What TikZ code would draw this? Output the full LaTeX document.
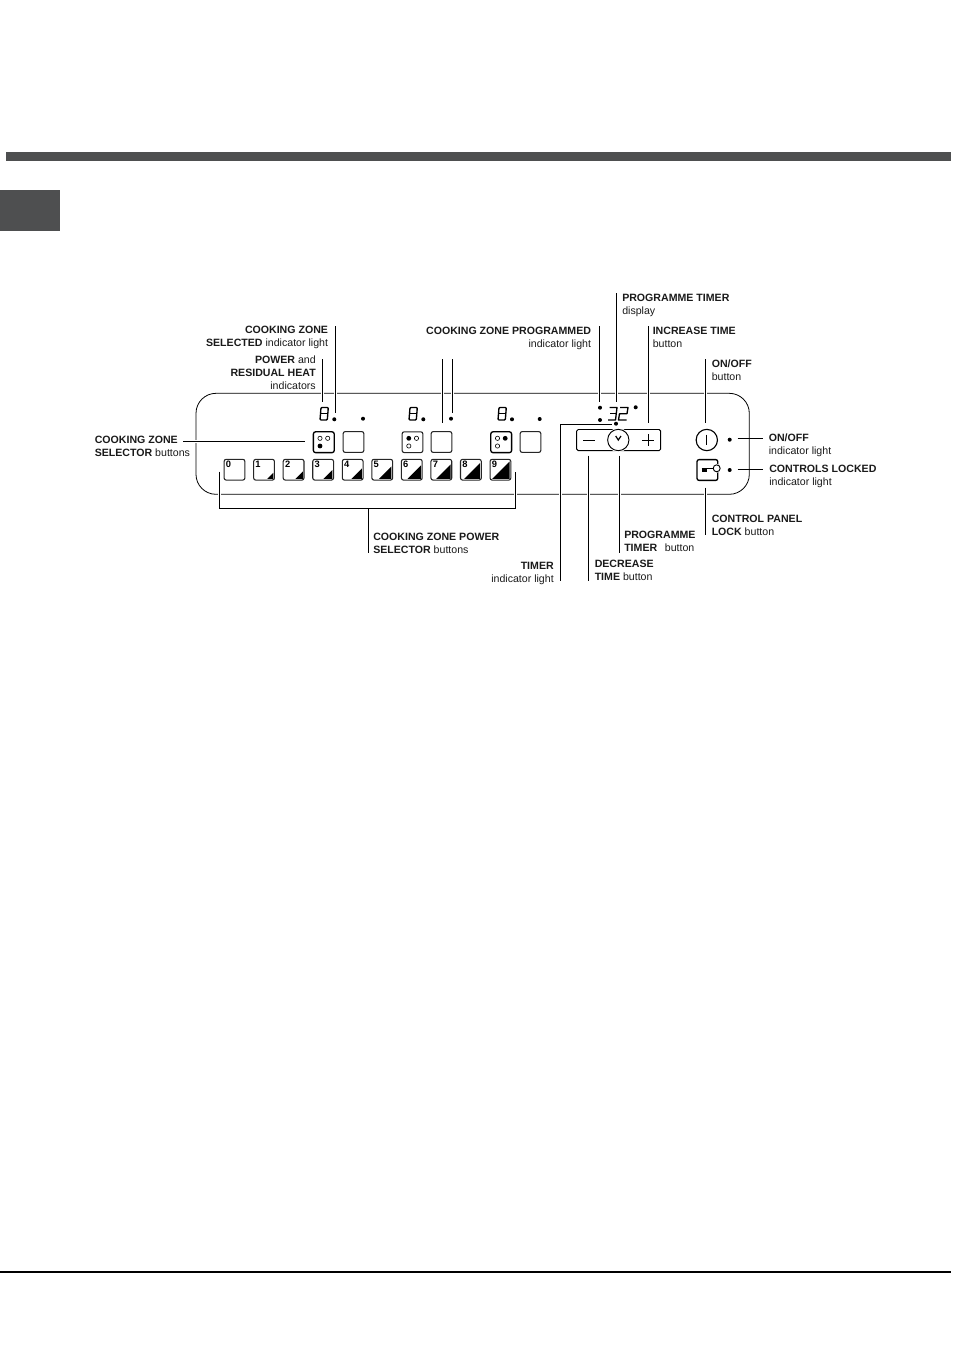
\documentclass[tikz,border=0pt]{standalone}
\usepackage{fontspec}
\setmainfont{Liberation Sans}
\usetikzlibrary{calc}
\definecolor{bar}{HTML}{4E4F50}
\definecolor{ink}{HTML}{1A1A1A}
\tikzset{
  lead/.style={draw=black,line width=0.75pt,preaction={draw=white,line width=2.6pt}},
  panel/.style={draw=black,line width=0.6pt,rounded corners=15pt},
  keybtn/.style={draw=black!85,line width=0.8pt,rounded corners=1.6pt,minimum width=15.6pt,minimum height=15.6pt,inner sep=0pt,fill=white},
  pdot/.style={circle,fill=black,inner sep=0pt,minimum size=3pt},
  ring/.style={circle,draw=black,line width=0.45pt,inner sep=0pt,minimum size=3.2pt},
  fdot/.style={circle,fill=black,inner sep=0pt,minimum size=3.6pt},
  seg/.style={draw=black,line width=1pt,line join=round},
  lab/.style={inner sep=0pt,font=\fontsize{7.95pt}{9.6pt}\selectfont,text=ink},
  labr/.style={lab,align=right,anchor=north east},
  labl/.style={lab,align=left,anchor=north west},
  num/.style={inner sep=0pt,font=\bfseries\fontsize{7pt}{7pt}\selectfont,anchor=north west}
}
\newcommand{\digiteight}[2]{%
  \draw[seg,rounded corners=0.7pt] (#1+1,#2) -- (#1+8.3,#2) -- (#1+7.3,#2+12.5) -- (#1,#2+12.5) -- cycle;
  \draw[seg] (#1+.5,#2+6.2) -- (#1+7.8,#2+6.2);}
\begin{document}
\begin{tikzpicture}[x=0.75pt,y=-0.75pt]
\useasboundingbox (0,0) rectangle (954,1350);
\fill[bar] (6,152) rectangle (951,161);
\fill[bar] (0,190) rectangle (60,231);
\draw[black,line width=0.9pt] (0,1272) -- (951,1272);

% panel
\draw[panel] (196,393.3) rectangle (749.3,494.3);

% selector buttons
\node[keybtn,line width=1pt,draw=black] (s1) at (323.8,442.2) {};
\node[keybtn] (b1) at (353.5,442) {};
\node[keybtn] (s2) at (412.5,442.2) {};
\node[keybtn] (b2) at (441.5,442) {};
\node[keybtn,line width=1pt,draw=black] (s3) at (501.2,442.2) {};
\node[keybtn] (b3) at (530.5,442) {};
\node[ring] at (320,438.3) {}; \node[ring] at (327.7,438.3) {}; \node[fdot] at (320,446) {};
\node[fdot] at (408.8,438.3) {}; \node[ring] at (416.5,438.3) {}; \node[ring] at (408.8,446) {};
\node[ring] at (497.5,438.3) {}; \node[fdot] at (505.2,438.3) {}; \node[ring] at (497.5,446) {};

% power buttons
\foreach \i/\leg in {0/0,1/6,2/7.5,3/9,4/10.5,5/12.5,6/13.5,7/14.5,8/16,9/17.5}{
  \pgfmathsetmacro{\cx}{234.5+\i*29.55}
  \node[keybtn] (p\i) at (\cx,469.7) {};
  \node[num] at ($(p\i.north west)+(2.1,2.2)$) {\i};
  \ifnum\i>0
    \fill[black] ($(p\i.south east)+(-1.7,-1.7)$) -- ++(-\leg,0) -- ++(\leg,-\leg) -- cycle;
  \fi
}

% digits
\digiteight{320}{407.5}
\digiteight{409}{407.5}
\digiteight{498}{407.5}
\node[pdot] (d1a) at (334.3,419.3) {};
\node[pdot] (d1b) at (363,418.7) {};
\node[pdot] (d2a) at (423.3,419.3) {};
\node[pdot] (d2b) at (451,418.7) {};
\node[pdot] (d3a) at (512,419.3) {};
\node[pdot] (d3b) at (539.7,419) {};
% timer display
\node[pdot] (t1) at (600,407.7) {};
\node[pdot] (t2) at (600,420) {};
\node[pdot] (t3) at (635.7,407.3) {};
\node[pdot] (t4) at (616,423.7) {};
\draw[seg] (609.5,407.5) -- (617,407.5) -- (615.5,420) -- (608,420);
\draw[seg] (610,413.7) -- (616,413.7);
\draw[seg] (620,407.5) -- (628,407.5) -- (627,413.7) -- (619.5,413.7) -- (618.5,420) -- (626.5,420);

% timer buttons
\draw[black,line width=0.7pt,rounded corners=1.2pt] (576.7,429.5) rectangle (660.7,450.7);
\node[circle,draw=black,fill=white,line width=0.7pt,minimum size=16pt,inner sep=0pt,preaction={draw=white,line width=2pt}] (clk) at (618.3,440) {};
\draw[black,line width=0.6pt] (583.3,440) -- (595,440);
\draw[black,line width=0.6pt] (642.3,440) -- (654,440) (648.2,434) -- (648.2,446);
\draw[black,line width=0.9pt] (615.7,436) -- (618.3,440) -- (621,436);

% right
\node[circle,draw=black,line width=0.85pt,minimum size=16pt,inner sep=0pt] (on) at (706.8,440) {};
\draw[black,line width=1pt] (706.8,434.7) -- (706.8,445.3);
\node[pdot] (d5) at (729.7,439.7) {};
\node[pdot] (d6) at (729.7,470) {};
\node[keybtn,line width=1pt,draw=black] (lock) at (707.4,470) {};
\node[circle,draw=black,fill=white,line width=0.7pt,minimum size=5.2pt,inner sep=0pt,preaction={draw=white,line width=1.5pt}] (kc) at (716.7,468.3) {};
\draw[black,line width=1.2pt] (701.7,468.3) -- (713.5,468.3);
\fill[black] (702,468.3) rectangle (707,471.5);

% leaders
\coordinate (a1) at (335.3,326); \coordinate (a1e) at (335.3,413.3);
\coordinate (a2) at (322.3,359.3); \coordinate (a2e) at (322.3,402);
\coordinate (a3) at (442.3,359.3); \coordinate (a3e) at (442.3,423);
\coordinate (a4) at (452.3,359.3); \coordinate (a4e) at (452.3,413.3);
\coordinate (a5) at (599.3,326); \coordinate (a5e) at (599.3,401.7);
\coordinate (a6) at (616.3,293); \coordinate (a6e) at (616.3,401.7);
\coordinate (a7) at (648.3,326); \coordinate (a7e) at (648.3,423.3);
\coordinate (a8) at (705.3,359); \coordinate (a8e) at (705.3,423.3);
\path[lead] (a1) -- (a1e); \path[lead] (a2) -- (a2e); \path[lead] (a3) -- (a3e);
\path[lead] (a4) -- (a4e); \path[lead] (a5) -- (a5e); \path[lead] (a6) -- (a6e);
\path[lead] (a7) -- (a7e); \path[lead] (a8) -- (a8e);
\coordinate (c1) at (183,441.7); \coordinate (c1e) at (305,441.7);
\path[lead] (c1) -- (c1e);
\coordinate (c2) at (737.7,438.5); \coordinate (c2e) at (763,438.5);
\draw[black,line width=.75pt] (c2) -- (c2e);
\coordinate (c3) at (737.7,469); \coordinate (c3e) at (763,469);
\draw[black,line width=.75pt] (c3) -- (c3e);
\coordinate (br1) at (219.7,471.7); \coordinate (br2) at (219.7,508.3);
\coordinate (br3) at (515.3,508.3); \coordinate (br4) at (515.3,471.7);
\path[lead] (br1) -- (br2) -- (br3) -- (br4);
\coordinate (st1) at (368.3,508.3); \coordinate (st2) at (368.3,552.7);
\draw[black,line width=.75pt] (st1) -- (st2);
\coordinate (tm0) at (611.7,424.3); \coordinate (tm1) at (560.5,424.3); \coordinate (tm2) at (560.5,581);
\path[lead] (tm0) -- (tm1) -- (tm2);
\coordinate (dc1) at (588.3,455.7); \coordinate (dc2) at (588.3,581);
\path[lead] (dc1) -- (dc2);
\coordinate (pt1) at (619.3,455.7); \coordinate (pt2) at (619.3,552.7);
\path[lead] (pt1) -- (pt2);
\coordinate (cp1) at (705.3,487.7); \coordinate (cp2) at (705.3,535);
\path[lead] (cp1) -- (cp2);

% labels
\node[labr] (l1) at (328.3,325.8) {\textbf{COOKING ZONE}\\\textbf{SELECTED} indicator light};
\node[labr] (l2) at (316,355.8) {\textbf{POWER} and\\\textbf{RESIDUAL HEAT}\\indicators};
\node[labr] (l3) at (591.3,326.8) {\textbf{COOKING ZONE PROGRAMMED}\\indicator light};
\node[labl] (l4) at (622,293.8) {\textbf{PROGRAMME TIMER}\\display};
\node[labl] (l5) at (652.5,326.8) {\textbf{INCREASE TIME}\\button};
\node[labl] (l6) at (711.5,359.8) {\textbf{ON/OFF}\\button};
\node[labl] (l7) at (94.5,435.8) {\textbf{COOKING ZONE}\\\textbf{SELECTOR} buttons};
\node[labl] (l8) at (768.5,433.8) {\textbf{ON/OFF}\\indicator light};
\node[labl] (l9) at (769,464.8) {\textbf{CONTROLS LOCKED}\\indicator light};
\node[labl] (l10) at (711.5,514.8) {\textbf{CONTROL PANEL}\\\textbf{LOCK} button};
\node[labl] (l11) at (373,532.8) {\textbf{COOKING ZONE POWER}\\\textbf{SELECTOR} buttons};
\node[labl] (l12) at (624,530.8) {\textbf{PROGRAMME}\\\textbf{TIMER}\ \ \,button};
\node[labl] (l13) at (594.5,559.8) {\textbf{DECREASE}\\\textbf{TIME} button};
\node[labr] (l14) at (554,561.8) {\textbf{TIMER}\\indicator light};
\end{tikzpicture}
\end{document}
